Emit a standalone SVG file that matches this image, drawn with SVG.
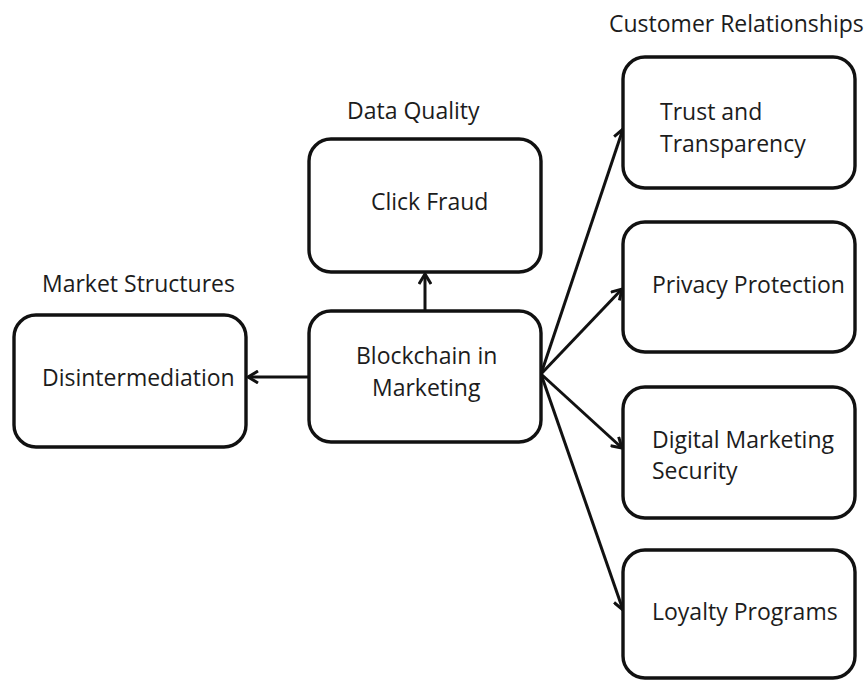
<svg xmlns="http://www.w3.org/2000/svg" width="864" height="680" viewBox="0 0 864 680">
<style>
.box{fill:#fff;stroke:#111;stroke-width:3.4}
.t{font-family:"Open Sans","Liberation Sans",sans-serif;font-size:23px;fill:#1c1c1c}
.c{stroke:#111;stroke-width:3;fill:none}
</style>
<defs>
<marker id="ah" viewBox="0 0 14 14" refX="12" refY="7" markerWidth="14" markerHeight="14" markerUnits="userSpaceOnUse" orient="auto">
<path d="M2,1 L12,7 L2,13" fill="none" stroke="#111" stroke-width="3" stroke-linejoin="miter"/>
</marker>
</defs>
<rect width="864" height="680" fill="#fff"/>
<g id="connectors">
<line class="c" x1="308" y1="377" x2="248" y2="377" marker-end="url(#ah)"/>
<line class="c" x1="425" y1="310" x2="425" y2="274" marker-end="url(#ah)"/>
<line class="c" x1="541" y1="374" x2="623" y2="129" marker-end="url(#ah)"/>
<line class="c" x1="541" y1="374" x2="622" y2="289" marker-end="url(#ah)"/>
<line class="c" x1="541" y1="374" x2="622" y2="448" marker-end="url(#ah)"/>
<line class="c" x1="541" y1="374" x2="623" y2="610" marker-end="url(#ah)"/>
</g>
<g id="label-market">
<text class="t" x="42" y="292">Market Structures</text>
</g>
<g id="label-data">
<text class="t" x="347" y="119">Data Quality</text>
</g>
<g id="label-customer">
<text class="t" x="609" y="32">Customer Relationships</text>
</g>
<g id="node-disintermediation">
<rect class="box" x="14" y="315" width="232" height="132" rx="22"/>
<text class="t" x="42" y="386">Disintermediation</text>
</g>
<g id="node-click-fraud">
<rect class="box" x="309" y="139" width="232" height="133" rx="22"/>
<text class="t" x="371" y="210">Click Fraud</text>
</g>
<g id="node-blockchain">
<rect class="box" x="309" y="311" width="232" height="131" rx="22"/>
<text class="t" x="356" y="364">Blockchain in</text>
<text class="t" x="372" y="396">Marketing</text>
</g>
<g id="node-trust">
<rect class="box" x="623" y="57" width="232" height="131" rx="22"/>
<text class="t" x="660" y="120">Trust and</text>
<text class="t" x="660" y="152">Transparency</text>
</g>
<g id="node-privacy">
<rect class="box" x="623" y="222" width="232" height="130" rx="22"/>
<text class="t" x="652" y="293">Privacy Protection</text>
</g>
<g id="node-digital">
<rect class="box" x="623" y="387" width="232" height="131" rx="22"/>
<text class="t" x="652" y="448">Digital Marketing</text>
<text class="t" x="652" y="479">Security</text>
</g>
<g id="node-loyalty">
<rect class="box" x="623" y="550" width="232" height="128" rx="22"/>
<text class="t" x="652" y="620">Loyalty Programs</text>
</g>
</svg>
